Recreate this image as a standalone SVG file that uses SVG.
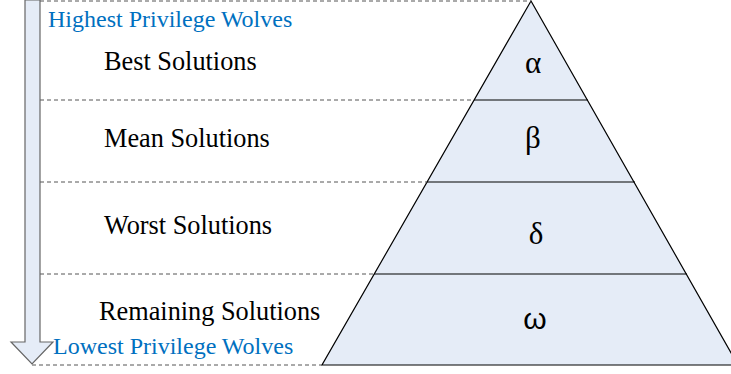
<svg xmlns="http://www.w3.org/2000/svg" width="731" height="374" viewBox="0 0 731 374">
<style>
.dash{stroke:#555;stroke-width:1;stroke-dasharray:4,3;fill:none}
.lvl{stroke:#000;stroke-width:1.2;fill:none}
.lbl{font-family:"Liberation Serif","Times New Roman",serif;font-size:26.3px;fill:#000}
.blue{font-family:"Liberation Serif","Times New Roman",serif;font-size:24px;fill:#0070C0}
.greek{font-family:"Liberation Serif","Times New Roman",serif;font-size:31px;fill:#000;text-anchor:middle}
.greek2{font-family:"Liberation Sans",Arial,sans-serif;font-size:30px;fill:#000;text-anchor:middle}
</style>
<rect width="731" height="374" fill="#fff"/>
<g id="pyramid">
<polygon points="531,1 322,365 738,365" fill="#E5ECF7" stroke="#000" stroke-width="1.2"/>
<line class="lvl" x1="474" y1="100" x2="588" y2="100"/>
<line class="lvl" x1="427" y1="182" x2="635" y2="182"/>
<line class="lvl" x1="374" y1="274" x2="687" y2="274"/>
<text class="greek" x="533" y="73">α</text>
<text class="greek" x="533" y="148">β</text>
<text class="greek" x="536" y="244">δ</text>
<text class="greek2" x="535" y="329">ω</text>
</g>
<g id="connectors">
<line class="dash" x1="40" y1="1" x2="531" y2="1"/>
<line class="dash" x1="40" y1="100" x2="474" y2="100"/>
<line class="dash" x1="40" y1="182" x2="427" y2="182"/>
<line class="dash" x1="40" y1="274" x2="374" y2="274"/>
<line class="dash" x1="32" y1="365" x2="322" y2="365"/>
</g>
<g id="arrow">
<polygon points="25,0 40,0 40,342 53,342 32,364 11,342 25,342" fill="#E5ECF7" stroke="#666" stroke-width="1.2"/>
</g>
<g id="labels">
<text class="blue" x="48" y="27">Highest Privilege Wolves</text>
<text class="lbl" x="104" y="70">Best Solutions</text>
<text class="lbl" x="104" y="147">Mean Solutions</text>
<text class="lbl" x="104" y="234">Worst Solutions</text>
<text class="lbl" x="99" y="320">Remaining Solutions</text>
<text class="blue" x="53" y="354">Lowest Privilege Wolves</text>
</g>
</svg>
